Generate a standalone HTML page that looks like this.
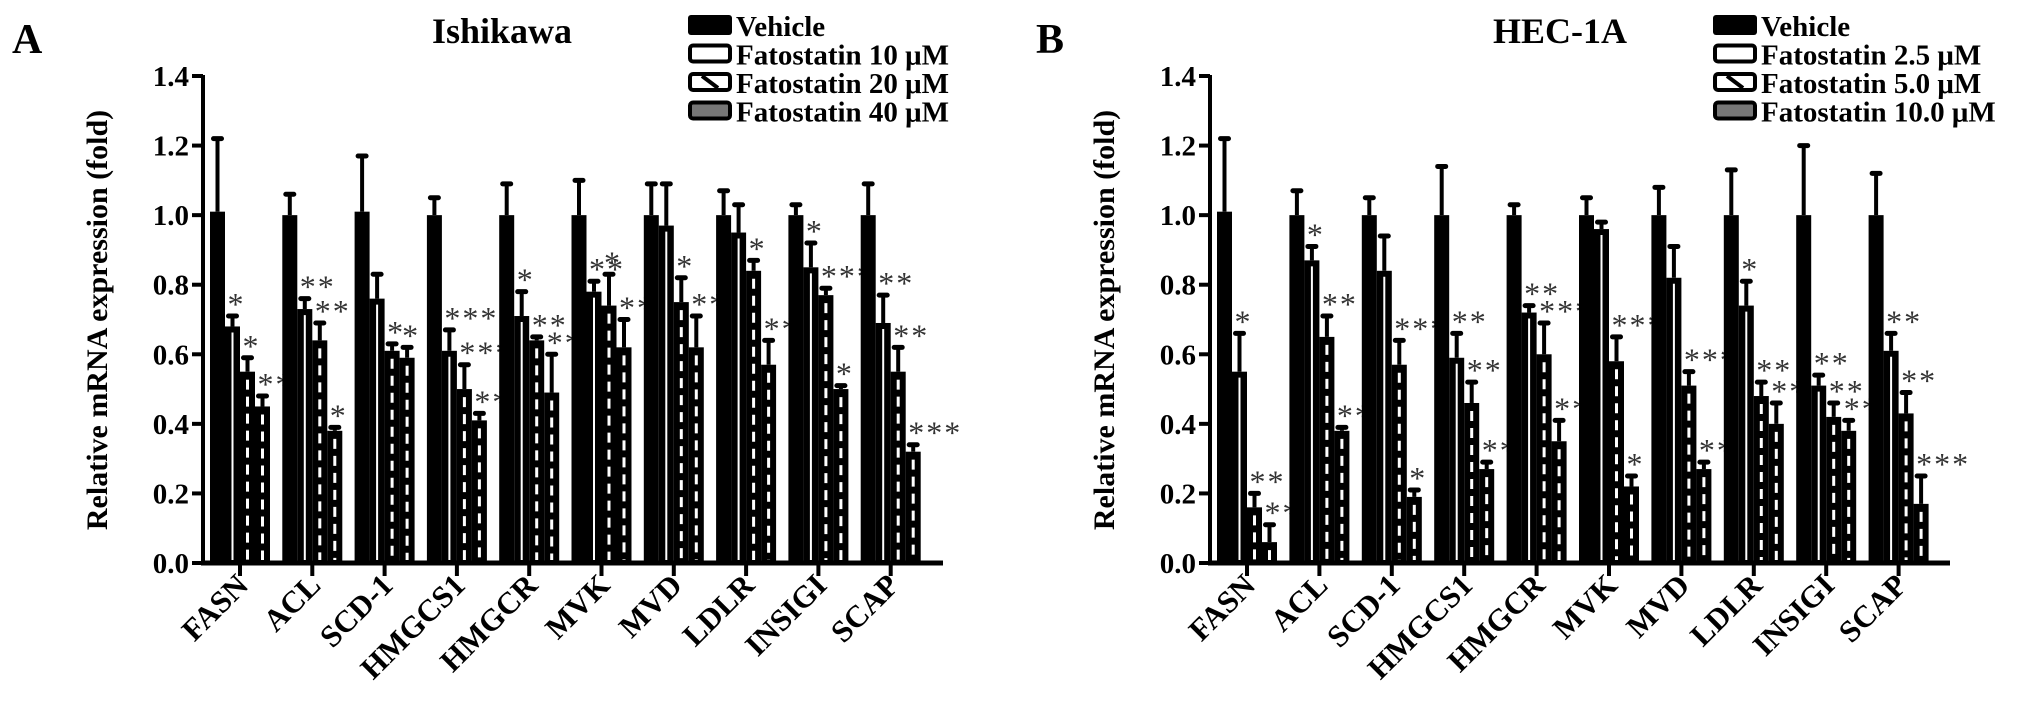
<!DOCTYPE html>
<html><head><meta charset="utf-8">
<style>
html,body{margin:0;padding:0;background:#fff;}
svg{display:block;font-family:"Liberation Serif",serif;font-weight:bold;}
</style></head>
<body>
<svg id="chart" width="2031" height="724" viewBox="0 0 2031 724" xmlns="http://www.w3.org/2000/svg">
  <text x="12" y="53" font-size="42">A</text>
  <text x="1036" y="53" font-size="42">B</text>
  <text x="502" y="43" font-size="36" text-anchor="middle">Ishikawa</text>
  <text x="1560" y="43" font-size="36" text-anchor="middle">HEC-1A</text>
  <text transform="translate(107,320) rotate(-90)" font-size="30" text-anchor="middle">Relative mRNA expression (fold)</text>
  <text transform="translate(1114,320) rotate(-90)" font-size="30" text-anchor="middle">Relative mRNA expression (fold)</text>
  <g id="plots"></g>
</svg>
<script>
const categories = ["FASN","ACL","SCD-1","HMGCS1","HMGCR","MVK","MVD","LDLR","INSIGI","SCAP"];
const yTicks = [0,0.2,0.4,0.6,0.8,1.0,1.2,1.4];
const yTickLabels = ["0.0","0.2","0.4","0.6","0.8","1.0","1.2","1.4"];

const aVehicle = [1.01,1.0,1.01,1.0,1.0,1.0,1.0,1.0,1.0,1.0];
const aVehicleErr = [0.21,0.06,0.16,0.05,0.09,0.1,0.09,0.07,0.03,0.09];
const aDose1 = [0.68,0.73,0.76,0.61,0.71,0.78,0.97,0.95,0.85,0.69];
const aDose1Err = [0.03,0.03,0.07,0.06,0.07,0.03,0.12,0.08,0.07,0.08];
const aDose2 = [0.55,0.64,0.61,0.50,0.64,0.74,0.75,0.84,0.77,0.55];
const aDose2Err = [0.04,0.05,0.02,0.07,0.01,0.09,0.07,0.03,0.02,0.07];
const aDose3 = [0.45,0.38,0.59,0.41,0.49,0.62,0.62,0.57,0.50,0.32];
const aDose3Err = [0.03,0.01,0.03,0.02,0.11,0.08,0.09,0.07,0.01,0.02];
const aStars1 = ["*","**","","***","*","**","","","*","**"];
const aStars2 = ["*","**","*","***","**","*","*","*","***","**"];
const aStars3 = ["**","*","*","**","**","**","**","**","*","***"];

const bVehicle = [1.01,1.0,1.0,1.0,1.0,1.0,1.0,1.0,1.0,1.0];
const bVehicleErr = [0.21,0.07,0.05,0.14,0.03,0.05,0.08,0.13,0.2,0.12];
const bDose1 = [0.55,0.87,0.84,0.59,0.72,0.96,0.82,0.74,0.51,0.61];
const bDose1Err = [0.11,0.04,0.1,0.07,0.02,0.02,0.09,0.07,0.03,0.05];
const bDose2 = [0.16,0.65,0.57,0.46,0.60,0.58,0.51,0.48,0.42,0.43];
const bDose2Err = [0.04,0.06,0.07,0.06,0.09,0.07,0.04,0.04,0.04,0.06];
const bDose3 = [0.06,0.38,0.19,0.27,0.35,0.22,0.27,0.40,0.38,0.17];
const bDose3Err = [0.05,0.01,0.02,0.02,0.06,0.03,0.02,0.06,0.03,0.08];
const bStars1 = ["*","*","","**","**","","","*","**","**"];
const bStars2 = ["**","**","***","**","***","***","***","**","**","**"];
const bStars3 = ["**","**","*","**","**","*","**","**","**","***"];

const aLegend = ["Vehicle","Fatostatin 10 μM","Fatostatin 20 μM","Fatostatin 40 μM"];
const bLegend = ["Vehicle","Fatostatin 2.5 μM","Fatostatin 5.0 μM","Fatostatin 10.0 μM"];

const NS="http://www.w3.org/2000/svg";
const root=document.getElementById('plots');
function mk(tag,attrs,parent){const e=document.createElementNS(NS,tag);for(const k in attrs)e.setAttribute(k,attrs[k]);(parent||root).appendChild(e);return e;}

function drawPanel(p){
  const g=mk('g',{});
  
  
  const y0=563, yTop=76, yMax=1.4;
  const yS=v=>y0-(v/yMax)*(y0-yTop);
  const xC=i=>p.c0+i*p.step;
  const ya=mk('line',{x1:p.ax,y1:yTop-1,x2:p.ax,y2:y0+2,stroke:'#000','stroke-width':4},g);
  
  
  const xa=mk('line',{x1:p.ax-2,y1:y0,x2:p.axEnd,y2:y0,stroke:'#000','stroke-width':5},g);
  
  
  yTicks.forEach((t,k)=>{
    const y=yS(t);
    mk('line',{x1:p.ax-11,y1:y,x2:p.ax,y2:y,stroke:'#000','stroke-width':4},g);
    const tx=mk('text',{x:p.ax-14,y:y+10,'font-size':29,'text-anchor':'end'},g);
    tx.textContent=yTickLabels[k];
    
    
  });
  const series=[[p.v0,p.e0,null],[p.v1,p.e1,p.s1],[p.v2,p.e2,p.s2],[p.v3,p.e3,p.s3]];
  categories.forEach((c,i)=>{
    const cx=xC(i);
    mk('line',{x1:cx,y1:y0,x2:cx,y2:y0+13,stroke:'#000','stroke-width':4},g);
    const lab=mk('text',{transform:`translate(${cx+10},${y0+24}) rotate(-45)`,'font-size':31,'text-anchor':'end'},g);
    lab.textContent=c;
    
    
    series.forEach((s,j)=>{
      const v=s[0][i], e=s[1][i];
      const bx=cx-30+15*j, bw=15, by=yS(v);
      const mid=bx+bw/2;
      const el=mk('line',{x1:mid,y1:by,x2:mid,y2:yS(v+e),stroke:'#000','stroke-width':4},g);
      
      
      mk('line',{x1:mid-4,y1:yS(v+e),x2:mid+4,y2:yS(v+e),stroke:'#000','stroke-width':5,'stroke-linecap':'round'},g);
      const r=mk('rect',{x:bx,y:by,width:bw,height:y0-by,fill:'#000'},g);
      
      
      if(j===1) mk('line',{x1:mid,y1:by+6,x2:mid,y2:y0-3,stroke:'#fff','stroke-width':2},g);
      if(j>=2) mk('line',{x1:mid,y1:by+8,x2:mid,y2:y0-3,stroke:'#fff','stroke-width':3,'stroke-dasharray':'10 7'},g);
      if(s[2] && s[2][i]){
        const st=mk('text',{x:mid-5,y:yS(v+e)-1,'font-size':32,fill:'#333','font-weight':'normal','letter-spacing':'2'},g);
        st.textContent=s[2][i];
        
        
      }
    });
  });
  p.legend.forEach((t,k)=>{
    const ly=p.ly+k*p.lstep;
    const lg=mk('g',{},g);
    
    
    if(k===0) mk('rect',{x:p.lx,y:ly-10,width:44,height:20,rx:3,fill:'#000'},lg);
    else {
      mk('rect',{x:p.lx+2,y:ly-8,width:40,height:16,rx:3,fill:k===3?'#777':'#fff',stroke:'#000','stroke-width':4},lg);
      if(k===2) mk('line',{x1:p.lx+14,y1:ly-6,x2:p.lx+30,y2:ly+6,stroke:'#000','stroke-width':4},lg);
    }
    const tx=mk('text',{x:p.lx+48,y:ly+11,'font-size':29},lg);
    tx.textContent=t;
  });
}

drawPanel({name:'panel-a',ax:203,axEnd:943,c0:240,step:72.3,
  v0:aVehicle,e0:aVehicleErr,v1:aDose1,e1:aDose1Err,v2:aDose2,e2:aDose2Err,v3:aDose3,e3:aDose3Err,
  s1:aStars1,s2:aStars2,s3:aStars3,legend:aLegend,lx:688,ly:25,lstep:28.5});
drawPanel({name:'panel-b',ax:1210,axEnd:1950,c0:1247,step:72.4,
  v0:bVehicle,e0:bVehicleErr,v1:bDose1,e1:bDose1Err,v2:bDose2,e2:bDose2Err,v3:bDose3,e3:bDose3Err,
  s1:bStars1,s2:bStars2,s3:bStars3,legend:bLegend,lx:1713,ly:25,lstep:28.5});
</script>
</body></html>
